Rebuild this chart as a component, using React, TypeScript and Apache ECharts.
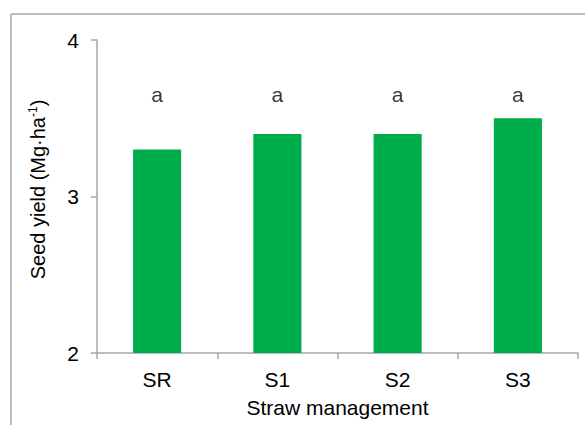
import React, { useEffect, useRef } from "react";
import * as echarts from "echarts";

const categories = ["SR", "S1", "S2", "S3"];
const yieldValues = [3.3, 3.4, 3.4, 3.5];
const letterLabels = ["a", "a", "a", "a"];
const letterLevel = 3.65;
const yTicks = { min: 2, max: 4, interval: 1 };

export default function App() {
  const ref = useRef<HTMLDivElement>(null);
  useEffect(() => {
    if (!ref.current) return;
    const chart = echarts.init(ref.current, null, { renderer: "svg" });
    const font = "'Liberation Sans', Arial, sans-serif";
    const axisColor = "#a6a6a6";
    chart.setOption({
      animation: false,
      backgroundColor: "#ffffff",
      textStyle: { fontFamily: font },
      graphic: [
        { type: "line", shape: { x1: 11, y1: 14, x2: 11, y2: 430 }, style: { stroke: axisColor, lineWidth: 1.5 } },
        { type: "line", shape: { x1: 11, y1: 14, x2: 590, y2: 14 }, style: { stroke: axisColor, lineWidth: 1.5 } },
      ],
      grid: { left: 97, right: 7, top: 40, bottom: 72, containLabel: false },
      xAxis: {
        type: "category",
        data: categories,
        boundaryGap: true,
        axisLine: { lineStyle: { color: axisColor, width: 1.5 } },
        axisTick: { show: true, length: 6, alignWithLabel: false, lineStyle: { color: axisColor, width: 1.5 } },
        axisLabel: { color: "#000", fontSize: 21, fontFamily: font, margin: 16 },
        name: "Straw management",
        nameLocation: "middle",
        nameGap: 44,
        nameTextStyle: { color: "#000", fontSize: 21, fontFamily: font },
      },
      yAxis: {
        type: "value",
        min: yTicks.min,
        max: yTicks.max,
        interval: yTicks.interval,
        splitLine: { show: false },
        axisLine: { show: true, lineStyle: { color: axisColor, width: 1.5 } },
        axisTick: { show: true, length: 6, lineStyle: { color: axisColor, width: 1.5 } },
        axisLabel: { color: "#000", fontSize: 21, fontFamily: font, margin: 18 },
        name: "{n|Seed yield (Mg·ha}{s|-1}{n|)}",
        nameLocation: "middle",
        nameRotate: 90,
        nameGap: 49,
        nameTextStyle: {
          color: "#000",
          fontSize: 20,
          fontFamily: font,
          padding: [0, 0, 0, 14],
          rich: {
            n: { fontSize: 20, fontFamily: font, color: "#000" },
            s: { fontSize: 12, fontFamily: font, color: "#000", verticalAlign: "top", padding: [0, 0, 9, 0] },
          },
        },
      },
      series: [
        {
          type: "bar",
          data: yieldValues,
          barWidth: "40%",
          itemStyle: { color: "#00ad4c" },
        },
        {
          type: "scatter",
          data: letterLabels.map(() => letterLevel),
          symbolSize: 1,
          itemStyle: { color: "rgba(0,0,0,0)" },
          label: {
            show: true,
            position: "inside",
            formatter: (p: any) => letterLabels[p.dataIndex],
            color: "#000",
            fontSize: 21,
            fontFamily: font,
          },
        },
      ],
    });
    return () => chart.dispose();
  }, []);
  return <div ref={ref} style={{ width: 585, height: 425, position: "absolute", left: 0, top: 0 }} />;
}
